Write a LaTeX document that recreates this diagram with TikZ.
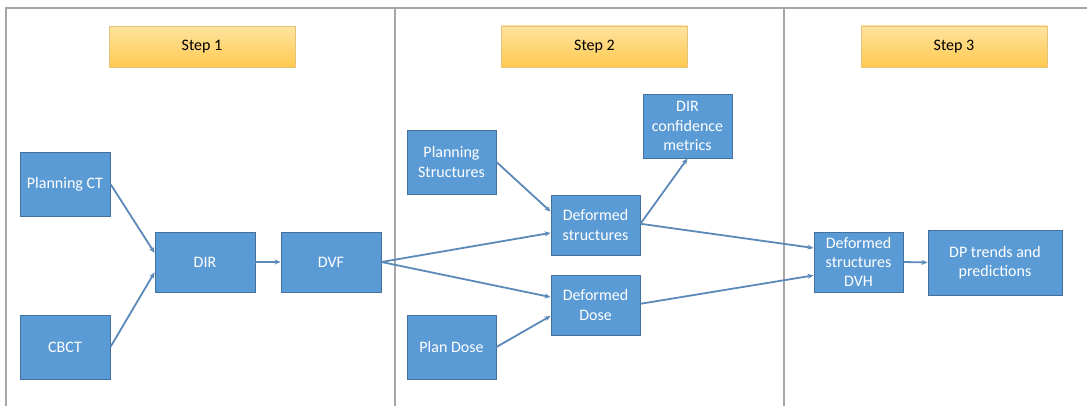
\documentclass[tikz,border=0pt]{standalone}
\usepackage{fontspec}
\setmainfont{Carlito}
\usetikzlibrary{calc,arrows.meta}
\definecolor{boxfill}{HTML}{5B9BD5}
\definecolor{boxline}{HTML}{41719C}
\definecolor{arrowc}{HTML}{5B89B9}
\definecolor{steptop}{HTML}{FFE39E}
\definecolor{stepbot}{HTML}{FFC94F}
\definecolor{stepline}{HTML}{E2C37A}
\definecolor{gridc}{HTML}{A6A6A6}
\begin{document}
\begin{tikzpicture}[x=1pt,y=-1pt,
  bluebox/.style={draw=boxline,line width=0.9pt,fill=boxfill,text=white,align=center,
    font=\fontsize{16}{19.3}\selectfont,inner sep=1pt},
  stepbox/.style={draw=stepline,line width=0.9pt,top color=steptop,bottom color=stepbot,
    font=\fontsize{16}{18}\selectfont,minimum width=186pt,minimum height=41pt},
  conn/.style={draw=arrowc,line width=1.8pt,-{Stealth[length=6pt,width=5pt]}},
  sep/.style={draw=gridc,line width=1.2pt}]
\useasboundingbox (0,0) rectangle (1087,406);
\fill[white] (0,0) rectangle (1087,406);
% frame
\coordinate (tl) at (6,8);
\coordinate (tr) at (1087,8);
\coordinate (bl) at (6,406);
\coordinate (d1t) at (395,8);
\coordinate (d1b) at (395,406);
\coordinate (d2t) at (784,8);
\coordinate (d2b) at (784,406);
\draw[sep] (bl) -- (tl) -- (tr);
\draw[sep] (d1t) -- (d1b);
\draw[sep] (d2t) -- (d2b);
% steps
\node[stepbox] (s1) at (202,47) {Step 1};
\node[stepbox] (s2) at (594.5,46.5) {Step 2};
\node[stepbox] (s3) at (954,46.5) {Step 3};
% boxes
\node[bluebox,minimum width=90pt,minimum height=64pt] (pct) at (65,184) {Planning CT};
\node[bluebox,minimum width=90pt,minimum height=64pt] (cbct) at (65,347) {CBCT};
\node[bluebox,minimum width=100pt,minimum height=60pt] (dir) at (205,262) {DIR};
\node[bluebox,minimum width=100pt,minimum height=60pt] (dvf) at (331,262) {DVF};
\node[bluebox,minimum width=89pt,minimum height=64pt] (pst) at (451.5,162) {Planning\\Structures};
\node[bluebox,minimum width=89pt,minimum height=64pt] (pdose) at (451.5,347) {Plan Dose};
\node[bluebox,minimum width=89pt,minimum height=60pt] (dst) at (595.5,225) {Deformed\\structures};
\node[bluebox,minimum width=89pt,minimum height=60pt] (ddose) at (595.5,305) {Deformed\\Dose};
\node[bluebox,minimum width=89pt,minimum height=64pt] (conf) at (687.5,126) {DIR\\confidence\\metrics};
\node[bluebox,minimum width=89pt,minimum height=60pt] (dvh) at (858.5,262) {Deformed\\structures\\DVH};
\node[bluebox,minimum width=134pt,minimum height=65pt] (dp) at (995,262.5) {DP trends and\\predictions};
% connectors
\draw[conn] (pct.east) -- ($(dir.north west)!0.35!(dir.south west)$);
\draw[conn] (cbct.east) -- ($(dir.north west)!0.67!(dir.south west)$);
\draw[conn] (dir.east) -- (dvf.west);
\draw[conn] (dvf.east) -- ($(dst.north west)!0.63!(dst.south west)$);
\draw[conn] (dvf.east) -- ($(ddose.north west)!0.37!(ddose.south west)$);
\draw[conn] (pst.east) -- ($(dst.north west)!0.28!(dst.south west)$);
\draw[conn] (pdose.east) -- ($(ddose.north west)!0.68!(ddose.south west)$);
\draw[conn] ($(dst.north east)!0.48!(dst.south east)$) -- (conf.south);
\draw[conn] ($(dst.north east)!0.48!(dst.south east)$) -- ($(dvh.north west)!0.27!(dvh.south west)$);
\draw[conn] ($(ddose.north east)!0.48!(ddose.south east)$) -- ($(dvh.north west)!0.72!(dvh.south west)$);
\draw[conn] (dvh.east) -- (dp.west);
\end{tikzpicture}
\end{document}
